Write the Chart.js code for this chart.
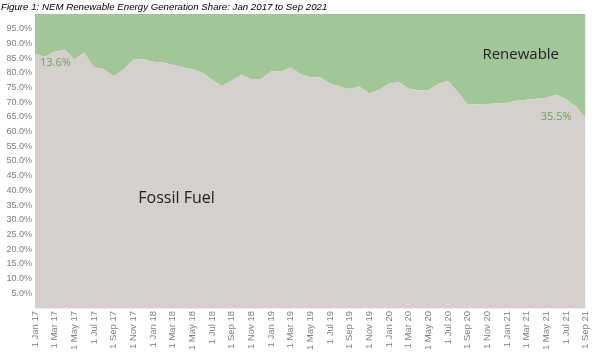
<!DOCTYPE html>
<html>
<head>
<meta charset="utf-8">
<script src="https://cdn.jsdelivr.net/npm/chart.js@4"></script>
<style>
  html, body { margin: 0; padding: 0; background: #fff; }
  #wrap { width: 600px; height: 352px; position: relative; }
</style>
</head>
<body>
<div id="wrap"><canvas id="myChart" width="600" height="352"></canvas></div>
<script>
const months = [
  '1 Jan 17','1 Feb 17','1 Mar 17','1 Apr 17','1 May 17','1 Jun 17','1 Jul 17','1 Aug 17','1 Sep 17','1 Oct 17','1 Nov 17','1 Dec 17',
  '1 Jan 18','1 Feb 18','1 Mar 18','1 Apr 18','1 May 18','1 Jun 18','1 Jul 18','1 Aug 18','1 Sep 18','1 Oct 18','1 Nov 18','1 Dec 18',
  '1 Jan 19','1 Feb 19','1 Mar 19','1 Apr 19','1 May 19','1 Jun 19','1 Jul 19','1 Aug 19','1 Sep 19','1 Oct 19','1 Nov 19','1 Dec 19',
  '1 Jan 20','1 Feb 20','1 Mar 20','1 Apr 20','1 May 20','1 Jun 20','1 Jul 20','1 Aug 20','1 Sep 20','1 Oct 20','1 Nov 20','1 Dec 20',
  '1 Jan 21','1 Feb 21','1 Mar 21','1 Apr 21','1 May 21','1 Jun 21','1 Jul 21','1 Aug 21','1 Sep 21'
];

// share of generation, %
const fossilShare = [
  86.4, 85.5, 87.2, 87.8, 84.6, 86.7, 81.9, 81.2, 78.9, 81.0, 84.4, 84.7,
  83.8, 83.5, 82.7, 81.9, 81.2, 80.1, 77.6, 75.5, 77.3, 79.3, 77.9, 77.9,
  80.4, 80.4, 81.8, 79.6, 78.5, 78.5, 76.4, 75.3, 74.5, 75.3, 73.0, 74.2,
  76.4, 76.8, 74.7, 74.1, 74.1, 76.2, 77.3, 73.4, 69.3, 69.3, 69.4, 69.6,
  69.8, 70.5, 70.8, 71.2, 71.5, 72.5, 71.1, 68.5, 64.5
];
const renewableShare = [
  13.6, 14.5, 12.8, 12.2, 15.4, 13.3, 18.1, 18.8, 21.1, 19.0, 15.6, 15.3,
  16.2, 16.5, 17.3, 18.1, 18.8, 19.9, 22.4, 24.5, 22.7, 20.7, 22.1, 22.1,
  19.6, 19.6, 18.2, 20.4, 21.5, 21.5, 23.6, 24.7, 25.5, 24.7, 27.0, 25.8,
  23.6, 23.2, 25.3, 25.9, 25.9, 23.8, 22.7, 26.6, 30.7, 30.7, 30.6, 30.4,
  30.2, 29.5, 29.2, 28.8, 28.5, 27.5, 28.9, 31.5, 35.5
];

const titleText = 'Figure 1: NEM Renewable Energy Generation Share: Jan 2017 to Sep 2021';

// text drawn on top of the areas
const overlay = {
  id: 'overlay',
  afterDraw(chart) {
    const c = chart.ctx, x = chart.scales.x, y = chart.scales.y;
    const last = renewableShare.length - 1;
    c.save();
    c.textBaseline = 'middle';

    c.fillStyle = '#000';
    c.font = 'italic 9.7px "Liberation Sans", Arial, sans-serif';
    c.textAlign = 'left';
    c.fillText(titleText, 1, 7);

    c.fillStyle = '#68a65a';
    c.font = '11px "Open Sans", sans-serif';
    c.fillText(renewableShare[0].toFixed(1) + '%', x.getPixelForValue(0) + 5, y.getPixelForValue(83.4));
    c.textAlign = 'right';
    c.fillText(renewableShare[last].toFixed(1) + '%', x.getPixelForValue(last) - 14, y.getPixelForValue(65));

    c.fillStyle = '#222';
    c.textAlign = 'center';
    c.font = '15px "Open Sans", sans-serif';
    c.fillText('Renewable', x.getPixelForValue(49.4), y.getPixelForValue(86.1));
    c.font = '16px "Open Sans", sans-serif';
    c.fillText('Fossil Fuel', x.getPixelForValue(14.4), y.getPixelForValue(37.4));
    c.restore();
  }
};

const ctx = document.getElementById('myChart');

new Chart(ctx, {
  type: 'line',
  data: {
    labels: months,
    datasets: [{
      label: 'Fossil Fuel',
      data: fossilShare,
      backgroundColor: '#d5d0ce',
      borderWidth: 0,
      pointRadius: 0,
      fill: 'origin'
    }, {
      label: 'Renewable',
      data: renewableShare,
      backgroundColor: '#a3c698',
      borderWidth: 0,
      pointRadius: 0,
      fill: '-1'
    }]
  },
  plugins: [overlay],
  options: {
    responsive: false,
    animation: false,
    layout: { padding: { top: 14, right: 14, left: 0, bottom: 0 } },
    plugins: {
      legend: { display: false },
      tooltip: { enabled: false }
    },
    scales: {
      x: {
        offset: false,
        grid: { display: false, drawTicks: false },
        border: { display: false },
        afterFit(s) { s.height = 44; },
        ticks: {
          autoSkip: false,
          minRotation: 90,
          maxRotation: 90,
          padding: 3,
          color: '#7f7f7f',
          font: { family: '"Liberation Sans", Arial, sans-serif', size: 9.5 },
          callback(v, i) { return i % 2 === 0 ? months[i] : ''; }
        }
      },
      y: {
        stacked: true,
        min: 0,
        max: 100,
        grid: { color: '#ececec', drawTicks: false },
        border: { display: false },
        afterFit(s) { s.width = 35; },
        ticks: {
          stepSize: 5,
          padding: 3,
          color: '#7f7f7f',
          font: { family: '"Liberation Sans", Arial, sans-serif', size: 9 },
          callback(v) { return (v === 0 || v === 100) ? '' : v.toFixed(1) + '%'; }
        }
      }
    }
  }
});
</script>
</body>
</html>
